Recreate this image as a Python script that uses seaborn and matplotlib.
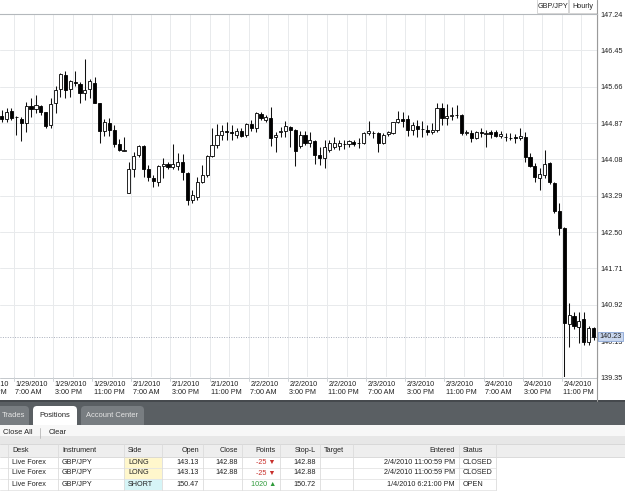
import numpy as np
import pandas as pd
import seaborn as sns
import matplotlib.pyplot as plt
from matplotlib.patches import Rectangle, FancyBboxPatch
from matplotlib.transforms import blended_transform_factory

# hourly GBP/JPY candles
opens = [145.02, 144.96, 145.13, 145.01, 144.96, 144.87, 145.24, 145.17, 145.24, 145.11,
         144.83, 145.30, 145.61, 145.91, 145.61, 145.76, 145.72, 145.52, 145.61, 145.74,
         145.30, 144.70, 144.87, 144.72, 144.41, 144.27, 143.35, 143.87, 144.17, 144.37,
         143.87, 143.67, 143.59, 143.93, 143.98, 143.91, 143.93, 144.02, 143.78, 143.20,
         143.26, 143.59, 143.74, 144.15, 144.39, 144.61, 144.69, 144.67, 144.61, 144.70,
         144.61, 144.85, 144.76, 145.07, 144.94, 144.98, 144.57, 144.67, 144.70, 144.78,
         144.72, 144.37, 144.61, 144.44, 144.48, 144.17, 144.11, 144.28, 144.35, 144.37,
         144.41, 144.41, 144.46, 144.43, 144.43, 144.65, 144.66, 144.65, 144.43, 144.63,
         144.65, 144.89, 144.96, 144.96, 144.72, 144.81, 144.74, 144.72, 144.67, 144.72,
         145.20, 144.98, 145.02, 145.04, 145.04, 144.65, 144.65, 144.54, 144.67, 144.63,
         144.67, 144.67, 144.59, 144.57, 144.55, 144.57, 144.54, 144.57, 144.13, 143.93,
         143.67, 143.74, 144.00, 143.57, 142.96, 142.59, 140.50, 140.67, 140.43, 140.61,
         140.11, 140.41]
highs = [145.15, 145.20, 145.20, 145.02, 145.00, 145.33, 145.41, 145.48, 145.26, 145.11,
         145.41, 145.67, 145.96, 146.00, 145.81, 146.00, 145.76, 146.26, 145.83, 145.87,
         145.30, 144.96, 144.98, 144.83, 144.52, 144.57, 144.02, 144.24, 144.39, 144.39,
         143.96, 143.74, 143.96, 144.11, 144.02, 144.41, 144.22, 144.20, 143.80, 143.41,
         143.70, 143.96, 144.17, 144.76, 144.85, 144.83, 144.89, 144.83, 144.76, 144.76,
         144.87, 144.94, 145.11, 145.11, 145.04, 145.22, 144.67, 144.78, 144.91, 144.81,
         144.74, 144.70, 144.70, 144.67, 144.50, 144.35, 144.50, 144.50, 144.57, 144.50,
         144.50, 144.50, 144.50, 144.54, 144.67, 144.91, 144.70, 144.67, 144.65, 144.70,
         144.89, 145.13, 145.11, 145.04, 144.89, 144.94, 144.91, 144.83, 144.87, 145.30,
         145.30, 145.28, 145.22, 145.26, 145.07, 144.72, 144.72, 144.70, 144.76, 144.72,
         144.72, 144.72, 144.70, 144.65, 144.65, 144.63, 144.76, 144.67, 144.22, 144.00,
         143.89, 144.28, 144.02, 143.59, 143.13, 142.61, 140.96, 140.76, 140.76, 140.76,
         140.46, 140.43]
lows = [144.89, 144.89, 144.94, 144.61, 144.48, 144.67, 145.00, 145.09, 145.04, 144.76,
        144.76, 145.09, 145.43, 145.41, 145.43, 145.67, 145.30, 145.37, 145.41, 145.30,
        144.43, 144.59, 144.59, 144.35, 144.26, 144.26, 143.34, 143.70, 144.13, 143.70,
        143.61, 143.48, 143.50, 143.67, 143.87, 143.87, 143.85, 143.63, 143.09, 143.13,
        143.20, 143.57, 143.70, 144.13, 144.33, 144.50, 144.50, 144.50, 144.55, 144.57,
        144.57, 144.70, 144.67, 144.94, 144.89, 144.37, 144.24, 144.57, 144.57, 144.35,
        143.93, 144.33, 144.39, 144.35, 143.98, 143.96, 143.89, 144.24, 144.30, 144.28,
        144.30, 144.35, 144.37, 144.33, 144.41, 144.61, 144.54, 144.24, 144.41, 144.59,
        144.63, 144.87, 144.78, 144.59, 144.61, 144.57, 144.57, 144.61, 144.63, 144.67,
        144.83, 144.83, 144.94, 144.98, 144.61, 144.61, 144.46, 144.52, 144.57, 144.35,
        144.54, 144.57, 144.55, 144.48, 144.50, 144.44, 144.50, 144.02, 143.91, 143.59,
        143.41, 143.67, 143.54, 142.91, 142.44, 139.35, 140.00, 140.39, 140.09, 140.04,
        140.04, 140.15]
closes = [144.96, 145.11, 144.98, 145.00, 144.87, 145.24, 145.17, 145.26, 145.11, 144.81,
          145.28, 145.59, 145.94, 145.59, 145.78, 145.75, 145.52, 145.59, 145.78, 145.30,
          144.70, 144.89, 144.72, 144.41, 144.28, 144.29, 143.87, 144.15, 144.37, 143.87,
          143.70, 143.61, 143.93, 143.98, 143.91, 143.98, 144.02, 143.81, 143.20, 143.31,
          143.59, 143.74, 144.15, 144.39, 144.61, 144.70, 144.67, 144.66, 144.70, 144.59,
          144.85, 144.76, 145.09, 144.98, 145.00, 144.54, 144.61, 144.70, 144.81, 144.72,
          144.26, 144.61, 144.44, 144.50, 144.17, 144.11, 144.35, 144.44, 144.44, 144.44,
          144.42, 144.48, 144.41, 144.44, 144.65, 144.70, 144.65, 144.43, 144.61, 144.67,
          144.89, 144.96, 144.91, 144.72, 144.83, 144.74, 144.73, 144.67, 144.72, 145.20,
          144.98, 145.02, 145.04, 145.05, 144.65, 144.67, 144.54, 144.67, 144.65, 144.65,
          144.63, 144.59, 144.63, 144.56, 144.54, 144.54, 144.59, 144.13, 143.93, 143.70,
          143.76, 143.98, 143.59, 142.96, 142.59, 140.52, 140.70, 140.46, 140.57, 140.11,
          140.41, 140.23]

price_ticks = [147.24, 146.45, 145.66, 144.87, 144.08, 143.29, 142.50, 141.71, 140.92, 140.13, 139.35]
last_price = 140.23
time_labels = ["1/28/2010\n11:00 PM", "1/29/2010\n7:00 AM", "1/29/2010\n3:00 PM", "1/29/2010\n11:00 PM",
               "2/1/2010\n7:00 AM", "2/1/2010\n3:00 PM", "2/1/2010\n11:00 PM", "2/2/2010\n7:00 AM",
               "2/2/2010\n3:00 PM", "2/2/2010\n11:00 PM", "2/3/2010\n7:00 AM", "2/3/2010\n3:00 PM",
               "2/3/2010\n11:00 PM", "2/4/2010\n7:00 AM", "2/4/2010\n3:00 PM", "2/4/2010\n11:00 PM"]

tabs = ["Trades", "Positions", "Account Center"]
columns = ["Desk", "Instrument", "Side", "Open", "Close", "Points", "Stop-L", "Target", "Entered", "Status"]
desk = ["Live Forex", "Live Forex", "Live Forex"]
instrument = ["GBP/JPY", "GBP/JPY", "GBP/JPY"]
side = ["LONG", "LONG", "SHORT"]
open_px = ["143.13", "143.13", "150.47"]
close_px = ["142.88", "142.88", ""]
points = [-25, -25, 1020]
stop_l = ["142.88", "142.88", "150.72"]
target = ["", "", ""]
entered = ["2/4/2010 11:00:59 PM", "2/4/2010 11:00:59 PM", "1/4/2010 6:21:00 PM"]
status = ["CLOSED", "CLOSED", "OPEN"]

df = pd.DataFrame({"open": opens, "high": highs, "low": lows, "close": closes})
df["bar"] = np.arange(len(df))
df["up"] = df["close"] >= df["open"]

sns.set_style("white")
plt.rcParams["font.family"] = ["Liberation Sans", "DejaVu Sans"]

W, H = 625, 501
fig = plt.figure(figsize=(W / 100, H / 100), dpi=100)
fig.patch.set_facecolor("white")

# pixel overlay for the UI chrome
bg = fig.add_axes([0, 0, 1, 1], zorder=0)
bg.set_xlim(0, W)
bg.set_ylim(H, 0)
bg.axis("off")

# chart area
ax = fig.add_axes([0, 1 - 377 / H, 597 / W, 363 / H], zorder=2)
ax.set_facecolor("white")
ax.set_xlim(-0.35, 121.7)
ax.set_ylim(139.35, 147.24)

for x in np.arange(2.5, 122, 4):
    ax.axvline(x, color="#e8eaec", lw=0.7, zorder=0)
for y in price_ticks:
    if y not in (140.13, 139.35):
        ax.axhline(y, color="#e8eaec", lw=0.7, zorder=0)
ax.axhline(last_price, color="#a8aebb", lw=0.7, ls=(0, (1, 1.5)), zorder=1)

ax.vlines(df["bar"], df["low"], df["high"], color="#111111", lw=0.75, zorder=2)
body_lo = df[["open", "close"]].min(axis=1)
body_h = (df["close"] - df["open"]).abs().clip(lower=0.012)
ax.bar(df["bar"], body_h, bottom=body_lo, width=0.64,
       color=np.where(df["up"], "white", "black"), edgecolor="black", lw=0.6, zorder=3)

ax.set_xticks([])
ax.yaxis.tick_right()
ax.set_yticks(price_ticks)
ax.set_yticklabels([f"{v:.2f}" for v in price_ticks])
ax.tick_params(axis="y", length=0, pad=2.5, labelsize=5.2, labelcolor="#222222")
for s in ["left", "bottom"]:
    ax.spines[s].set_visible(False)
ax.spines["top"].set_color("#b4b8bc")
ax.spines["top"].set_linewidth(0.8)
ax.spines["right"].set_color("#9a9a9a")
ax.spines["right"].set_linewidth(0.8)

trans = blended_transform_factory(ax.transAxes, ax.transData)
ax.text(1.004, last_price, f"{last_price:.2f}", transform=trans, ha="left", va="center",
        fontsize=5.2, color="#222222", zorder=5,
        bbox=dict(boxstyle="square,pad=0.18", fc="#c9d7ef", ec="#8aa6d6", lw=0.6))

xtrans = blended_transform_factory(ax.transData, ax.transAxes)
for k, lab in enumerate(time_labels):
    xg = -5.5 + 8 * k
    ax.text(xg + 0.3, -0.011, lab, transform=xtrans, ha="left", va="top",
            fontsize=5.2, color="#222222", linespacing=1.15, clip_on=False)
    ax.plot([xg, xg], [0, -0.012], transform=xtrans, color="#d0d4d8", lw=0.7, clip_on=False)

# bottom border of time axis and right rule
bg.plot([0, 597], [377.5, 377.5], color="#c4c8cc", lw=0.7)
bg.plot([597.3, 597.3], [0, 401], color="#9a9a9a", lw=0.8)

# instrument / period boxes
for (x0, w, txt) in [(537, 31, "GBP/JPY"), (569, 28, "Hourly")]:
    bg.add_patch(Rectangle((x0, -1), w, 14, fc="white", ec="#d0d0d0", lw=0.6))
    bg.text(x0 + w / 2, 6.5, txt, ha="center", va="center", fontsize=5.2, color="#222222")

# tab strip
bg.add_patch(Rectangle((0, 400), W, 25, fc="#5a5f63", ec="none"))
bg.add_patch(Rectangle((0, 400), W, 2, fc="#45494d", ec="none"))
tab_geom = [(-12, 41), (33, 44), (81, 63)]
for (x0, w), name in zip(tab_geom, tabs):
    active = name == "Positions"
    bg.add_patch(FancyBboxPatch((x0, 406), w, 22, boxstyle="round,pad=0,rounding_size=4",
                                fc="white" if active else "#787d81", ec="none"))
    tx = x0 + w / 2 if x0 > 0 else 1.5
    bg.text(tx, 415.5, name, ha="center" if x0 > 0 else "left", va="center", fontsize=5.4,
            color="#222222" if active else "#e6e6e6")

# toolbar
bg.add_patch(Rectangle((0, 425), W, 11, fc="#f7f7f7", ec="none"))
bg.add_patch(Rectangle((0, 436), W, 8, fc="#e7e7e7", ec="none"))
bg.text(3, 432.5, "Close All", ha="left", va="center", fontsize=5.4, color="#222222")
bg.plot([40, 40], [428, 438], color="#b8b8b8", lw=0.6)
bg.text(49, 432.5, "Clear", ha="left", va="center", fontsize=5.4, color="#222222")

# table
col_edges = [0, 8, 58, 124, 162, 203, 242, 280, 320, 353, 459, 496]
align = ["left", "left", "left", "right", "right", "right", "right", "left", "right", "left"]
bg.add_patch(Rectangle((0, 444), W, 12.5, fc="#eeeeee", ec="none"))
bg.plot([0, W], [444, 444], color="#d4d4d4", lw=0.6)
bg.plot([0, W], [456.5, 456.5], color="#d4d4d4", lw=0.6)
row_y = [462, 473, 484]
for ry in row_y:
    bg.plot([0, 496], [ry + 5.5, ry + 5.5], color="#e4e4e4", lw=0.6)
for r, s in enumerate(side):
    bg.add_patch(Rectangle((124, row_y[r] - 5), 38, 10.5,
                           fc="#fff7cc" if s == "LONG" else "#d6f5f7", ec="none"))
for xe in col_edges[1:]:
    bg.plot([xe, xe], [444, 489.5], color="#dcdcdc", lw=0.6)


def cell_x(c):
    left, right = col_edges[c + 1], col_edges[c + 2]
    return (left + 4, "left") if align[c] == "left" else (right - 4, "right")


for c, name in enumerate(columns):
    x, ha = cell_x(c)
    bg.text(x, 450.5, name, ha=ha, va="center", fontsize=5.2, color="#222222")

for r in range(3):
    pts = points[r]
    pts_txt = f"{pts} \u25bc" if pts < 0 else f"{pts} \u25b2"
    vals = [desk[r], instrument[r], side[r], open_px[r], close_px[r], pts_txt,
            stop_l[r], target[r], entered[r], status[r]]
    for c, v in enumerate(vals):
        x, ha = cell_x(c)
        color = "#222222"
        if c == 5:
            color = "#c8302c" if pts < 0 else "#2e9a3a"
        bg.text(x, row_y[r], v, ha=ha, va="center", fontsize=5.2, color=color)

fig.savefig("out.png", dpi=100)
